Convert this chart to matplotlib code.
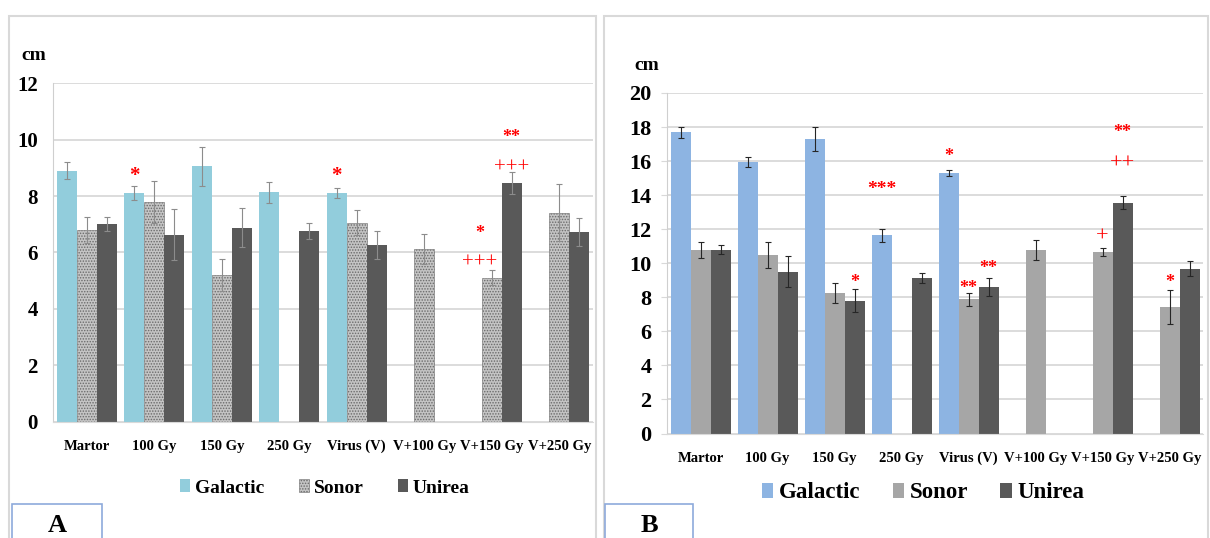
import numpy as np
import matplotlib
matplotlib.use("Agg")
import matplotlib.pyplot as plt
from matplotlib.patches import Rectangle

plt.rcParams['font.family'] = ['Liberation Serif', 'DejaVu Serif']
plt.rcParams['hatch.linewidth'] = 0.7

nan = np.nan

# categorii comune
categorii = ["Martor", "100 Gy", "150 Gy", "250 Gy", "Virus (V)",
             "V+100 Gy", "V+150 Gy", "V+250 Gy"]
soiuri = ["Galactic", "Sonor", "Unirea"]

# Panoul A (cm)
a_galactic = [8.9, 8.1, 9.05, 8.13, 8.1, nan, nan, nan]
a_galactic_err = [0.3, 0.25, 0.7, 0.37, 0.18, nan, nan, nan]
a_sonor = [6.8, 7.8, 5.2, nan, 7.05, 6.13, 5.1, 7.41]
a_sonor_err = [0.45, 0.75, 0.58, nan, 0.45, 0.53, 0.26, 1.02]
a_unirea = [7.0, 6.63, 6.88, 6.76, 6.26, nan, 8.46, 6.72]
a_unirea_err = [0.25, 0.9, 0.69, 0.29, 0.5, nan, 0.4, 0.5]

# Panoul B (cm)
b_galactic = [17.7, 15.95, 17.3, 11.65, 15.28, nan, nan, nan]
b_galactic_err = [0.32, 0.32, 0.68, 0.38, 0.17, nan, nan, nan]
b_sonor = [10.77, 10.48, 8.26, nan, 7.88, 10.77, 10.66, 7.45]
b_sonor_err = [0.45, 0.75, 0.6, nan, 0.38, 0.58, 0.25, 1.0]
b_unirea = [10.8, 9.5, 7.8, 9.12, 8.62, nan, 13.55, 9.69]
b_unirea_err = [0.25, 0.9, 0.68, 0.3, 0.52, nan, 0.38, 0.43]

# semnificatii: (categorie, decalaj fata de centru, y, text, marime, grosime)
a_semne = [(1, -1, 8.8, "*", 15, "bold"),
           (4, -1, 8.8, "*", 15, "bold"),
           (6, 1, 10.15, "**", 13, "bold"),
           (6, 1, 9.07, "+++", 15, "normal"),
           (6, -0.6, 6.75, "*", 13, "bold"),
           (6, -0.6, 5.7, "+++", 15, "normal")]
b_semne = [(3, -1, 14.45, "***", 14, "bold"),
           (4, -1, 16.4, "*", 13, "bold"),
           (4, 0, 8.65, "**", 13, "bold"),
           (4, 1, 9.78, "**", 13, "bold"),
           (2, 1, 8.97, "*", 13, "bold"),
           (6, 1, 17.8, "**", 13, "bold"),
           (6, 1, 16.0, "++", 16, "normal"),
           (6, 0, 11.7, "+", 16, "normal"),
           (7, 0, 9.0, "*", 13, "bold")]

W, H = 1210, 538
fig = plt.figure(figsize=(W / 100, H / 100), dpi=100)


def fx(px):
    return px / W


def fy(py):
    return 1 - py / H


# chenarele celor doua panouri
for x0, x1 in [(9, 596), (604, 1208)]:
    fig.patches.append(Rectangle((fx(x0), fy(545)), fx(x1 - x0), (545 - 16) / H,
                                 transform=fig.transFigure, fill=False,
                                 edgecolor="#d9d9d9", lw=1.5))


def panou(rect, serii, erori, stiluri, ymax, semne, bw, errcol, tick_fs, outward):
    ax = fig.add_axes(rect)
    x = np.arange(len(categorii))
    bare = []
    for k, (vals, errs, st) in enumerate(zip(serii, erori, stiluri)):
        pos = x + (k - 1) * bw
        b = ax.bar(pos, vals, bw, label=soiuri[k], **st)
        bare.append(b)
        ax.errorbar(pos, vals, yerr=errs, fmt="none", ecolor=errcol,
                    elinewidth=0.8, capsize=2, capthick=0.8)
    for cat, off, y, txt, fs, fw in semne:
        ax.text(cat + off * bw, y, txt, color="red", fontsize=fs,
                fontweight=fw, ha="center", va="center_baseline")
    ax.set_xlim(-0.5, len(categorii) - 0.5)
    ax.set_ylim(0, ymax)
    ax.set_yticks(np.arange(0, ymax + 1, 2))
    ax.set_xticks(x)
    ax.set_xticklabels(categorii, fontsize=10.5, fontweight="bold")
    for t in ax.get_yticklabels():
        t.set_fontsize(tick_fs)
        t.set_fontweight("bold")
    ax.tick_params(axis="x", length=0, pad=13)
    if outward:
        ax.tick_params(axis="y", length=4.3, color="#d9d9d9", pad=7)
    else:
        ax.tick_params(axis="y", length=0, pad=11)
    ax.grid(axis="y", color="#d9d9d9", lw=1.3)
    ax.set_axisbelow(True)
    for s in ["top", "right"]:
        ax.spines[s].set_visible(False)
    ax.spines["left"].set_color("#cfcfcf")
    ax.spines["bottom"].set_color("#d9d9d9")
    return ax, bare


stil_a = [dict(color="#92cddc"),
          dict(facecolor="#c4c4c4", edgecolor="#6a6a6a", hatch="......", lw=0.4),
          dict(color="#595959")]
stil_b = [dict(color="#8db4e2"), dict(color="#a6a6a6"), dict(color="#595959")]

ax_a, bare_a = panou([fx(53), fy(421.5), fx(540), (421.5 - 83.3) / H],
                     [a_galactic, a_sonor, a_unirea],
                     [a_galactic_err, a_sonor_err, a_unirea_err],
                     stil_a, 12, a_semne, 20 / 67.5, "#8c8c8c", 15, False)
ax_b, bare_b = panou([fx(667), fy(433.5), fx(536), (433.5 - 93) / H],
                     [b_galactic, b_sonor, b_unirea],
                     [b_galactic_err, b_sonor_err, b_unirea_err],
                     stil_b, 20, b_semne, 20 / 67, "#262626", 16, True)

fig.text(fx(34), fy(56), "cm", fontsize=14, fontweight="bold", ha="center", va="center")
fig.text(fx(647), fy(65), "cm", fontsize=14, fontweight="bold", ha="center", va="center")

fig.legend(bare_a, soiuri, loc="center", bbox_to_anchor=(fx(325), fy(488)),
           ncol=3, frameon=False, prop=dict(size=14, weight="bold"),
           handlelength=0.5, handleheight=0.6, handletextpad=0.25,
           columnspacing=1.8, borderpad=0)
fig.legend(bare_b, soiuri, loc="center", bbox_to_anchor=(fx(923), fy(493)),
           ncol=3, frameon=False, prop=dict(size=16.5, weight="bold"),
           handlelength=0.5, handleheight=0.6, handletextpad=0.25,
           columnspacing=1.4, borderpad=0)

# etichetele A / B
for x0, x1, lit in [(12, 102, "A"), (605, 693, "B")]:
    fig.patches.append(Rectangle((fx(x0), fy(545)), fx(x1 - x0), (545 - 504) / H,
                                 transform=fig.transFigure, fill=False,
                                 edgecolor="#8eaadb", lw=1.2))
    fig.text(fx((x0 + x1) / 2), fy(526), lit, fontsize=19, fontweight="bold",
             ha="center", va="center")

fig.savefig("out.png", dpi=100)
